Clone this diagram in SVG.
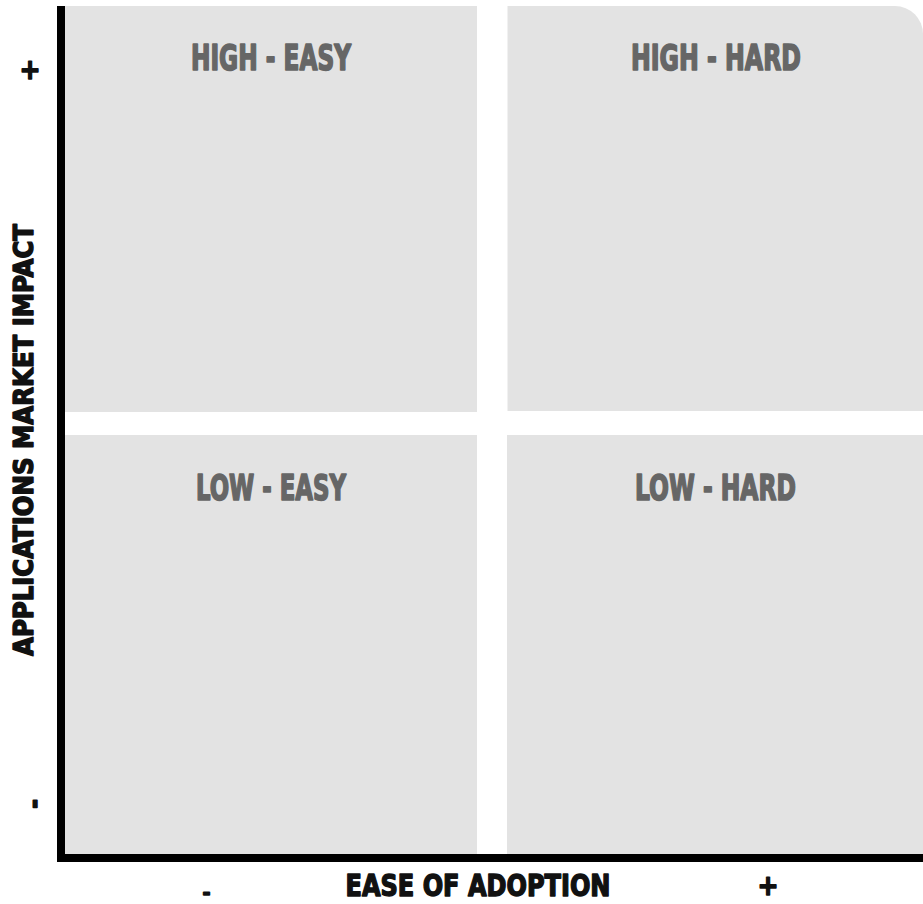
<svg xmlns="http://www.w3.org/2000/svg" width="923" height="904" viewBox="0 0 923 904">
<style>
.q{fill:#e3e3e3}
.ql{font-family:"DejaVu Sans",sans-serif;font-weight:bold;font-stretch:condensed;font-size:35px;fill:#666666;stroke:#666666;stroke-width:1.6;stroke-linejoin:round;text-anchor:middle}
.ax{font-family:"DejaVu Sans",sans-serif;font-weight:bold;font-stretch:condensed;fill:#111111;stroke:#111111;stroke-width:1.4;stroke-linejoin:round;text-anchor:middle}
</style>
<rect width="923" height="904" fill="#ffffff"/>
<g id="high-easy">
<rect class="q" x="65" y="6" width="412" height="406"/>
<text class="ql" x="271" y="70" textLength="160" lengthAdjust="spacingAndGlyphs">HIGH - EASY</text>
</g>
<g id="high-hard">
<path class="q" d="M507.5,6 H895 A28,28 0 0 1 923,34 V411 H507.5 Z"/>
<text class="ql" x="716" y="70" textLength="170" lengthAdjust="spacingAndGlyphs">HIGH - HARD</text>
</g>
<g id="low-easy">
<rect class="q" x="65" y="435" width="412" height="419"/>
<text class="ql" x="271" y="500" textLength="150" lengthAdjust="spacingAndGlyphs">LOW - EASY</text>
</g>
<g id="low-hard">
<rect class="q" x="507" y="435" width="416" height="419"/>
<text class="ql" x="715.5" y="500" textLength="161" lengthAdjust="spacingAndGlyphs">LOW - HARD</text>
</g>
<g id="connectors">
<rect x="57" y="6" width="8" height="856" fill="#000000"/>
<rect x="57" y="854" width="866" height="8" fill="#000000"/>
</g>
<g id="axis-labels">
<text class="ax" font-size="30" x="478" y="896" textLength="265" lengthAdjust="spacingAndGlyphs">EASE OF ADOPTION</text>
<text class="ax" font-size="28" x="768" y="895">+</text>
<text class="ax" font-size="20" x="206.5" y="899" textLength="8" lengthAdjust="spacingAndGlyphs">-</text>
<text class="ax" font-size="26" transform="translate(33,440) rotate(-90)" x="0" y="0" textLength="432" lengthAdjust="spacingAndGlyphs">APPLICATIONS MARKET IMPACT</text>
<text class="ax" font-size="28" x="30" y="79">+</text>
<text class="ax" font-size="26" transform="translate(43,804) rotate(-90)" x="0" y="0">-</text>
</g>
</svg>
